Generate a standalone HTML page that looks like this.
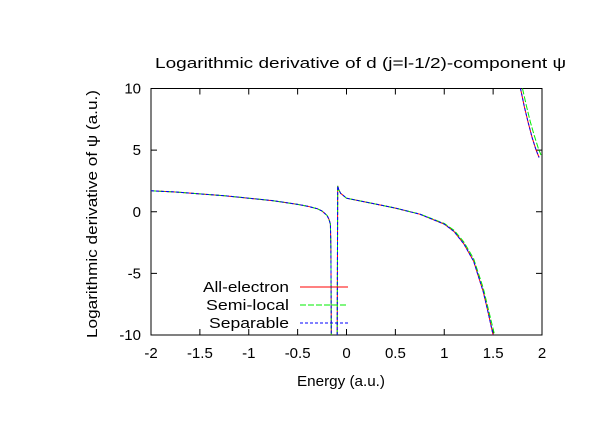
<!DOCTYPE html>
<html><head><meta charset="utf-8"><style>
body{margin:0;background:#fff}
svg text{font-family:"Liberation Sans",sans-serif;font-size:15px;fill:#000}
</style></head><body>
<svg id="c" width="612" height="428" xmlns="http://www.w3.org/2000/svg">
<rect width="612" height="428" fill="#fff"/>
<text x="155" y="68" textLength="411" lengthAdjust="spacingAndGlyphs">Logarithmic derivative of d (j=l-1/2)-component ψ</text>
<text transform="translate(97,338) rotate(-90)" textLength="248" lengthAdjust="spacingAndGlyphs">Logarithmic derivative of ψ (a.u.)</text>
<text x="297" y="386" textLength="88" lengthAdjust="spacingAndGlyphs">Energy (a.u.)</text>
<g id="axes"></g>
<g id="series"></g>
<g id="legend"></g>
</svg>
<script>
const xTicks=[-2,-1.5,-1,-0.5,0,0.5,1,1.5,2];
const yTicks=[-10,-5,0,5,10];
const seriesNames=["All-electron","Semi-local","Separable"];
const legendWidths=[86,83,80];
const seriesColors=["#ff0000","#00ee00","#0000ff"];
const aeX1=[-2,-1.75,-1.5,-1.25,-1,-0.75,-0.5,-0.4,-0.3,-0.25,-0.2,-0.18,-0.165,-0.16,-0.155];
const aeY1=[1.7,1.6,1.45,1.3,1.1,0.9,0.6,0.45,0.25,0.05,-0.3,-0.6,-1.0,-3,-10];
const aeX2=[-0.095,-0.09,-0.08,-0.06,-0.03,0,0.25,0.5,0.75,1,1.1,1.2,1.3,1.4,1.45,1.5];
const aeY2=[-10,2.1,1.8,1.5,1.3,1.1,0.7,0.3,-0.2,-1.0,-1.6,-2.6,-4.0,-6.5,-8.2,-10];
const aeX3=[1.78,1.82,1.86,1.9,1.94,1.97];
const aeY3=[10,8.5,7.2,6.0,5.0,4.4];
const slX2=[-0.095,-0.09,-0.08,-0.06,-0.03,0,0.25,0.5,0.75,1,1.1,1.2,1.3,1.4,1.46,1.515];
const slY2=[-10,2.1,1.8,1.5,1.3,1.1,0.7,0.3,-0.18,-0.95,-1.5,-2.45,-3.8,-6.2,-8.2,-10];
const slX3=[1.8,1.84,1.88,1.92,1.96,1.99];
const slY3=[10,8.6,7.3,6.2,5.2,4.6];
const L=151,R=542,T=88.5,B=335;
const sx=v=>L+(v+2)/4*(R-L);
const sy=v=>B-(v+10)/20*(B-T);
const NS="http://www.w3.org/2000/svg";
function mk(tag,attrs,parent){const e=document.createElementNS(NS,tag);for(const k in attrs)e.setAttribute(k,attrs[k]);parent.appendChild(e);return e;}
const ax=document.getElementById('axes');
const frame=mk('rect',{x:L,y:T,width:R-L,height:B-T,fill:'none',stroke:'#000','stroke-width':1},ax);


xTicks.forEach(t=>{const x=sx(t);
 mk('path',{d:`M${x},${B}v-6M${x},${T}v6`,stroke:'#000'},ax);
 const tx=mk('text',{x:x,y:358,'text-anchor':'middle'},ax);tx.textContent=t;
 
 });
yTicks.forEach(t=>{const y=sy(t);
 mk('path',{d:`M${L},${y}h6M${R},${y}h-6`,stroke:'#000'},ax);
 const tx=mk('text',{x:141,y:y+5,'text-anchor':'end'},ax);tx.textContent=t;
 
 });
const sg=document.getElementById('series');
function line(xs,ys,color,dash,name){
 const d=xs.map((v,i)=>(i?'L':'M')+sx(v).toFixed(1)+','+sy(ys[i]).toFixed(1)).join('');
 const p=mk('path',{d:d,fill:'none',stroke:color,'stroke-width':1,'stroke-dasharray':dash},sg);
 
 }
const dashes=["none","6,2","3,2"];
line(aeX1,aeY1,seriesColors[0],dashes[0],'all-electron-branch-1');
line(aeX2,aeY2,seriesColors[0],dashes[0],'all-electron-branch-2');
line(aeX3,aeY3,seriesColors[0],dashes[0],'all-electron-branch-3');
line(aeX1,aeY1,seriesColors[1],dashes[1],'semi-local-branch-1');
line(slX2,slY2,seriesColors[1],dashes[1],'semi-local-branch-2');
line(slX3,slY3,seriesColors[1],dashes[1],'semi-local-branch-3');
line(aeX1,aeY1,seriesColors[2],dashes[2],'separable-branch-1');
line(aeX2,aeY2,seriesColors[2],dashes[2],'separable-branch-2');
line(aeX3,aeY3,seriesColors[2],dashes[2],'separable-branch-3');
const lg=document.getElementById('legend');
seriesNames.forEach((n,i)=>{const y=287+i*18;
 const t=mk('text',{x:289-legendWidths[i],y:y+5,textLength:legendWidths[i],lengthAdjust:'spacingAndGlyphs'},lg);t.textContent=n;
 
 
 const l=mk('path',{d:`M300,${y}h48`,stroke:seriesColors[i],'stroke-width':1,'stroke-dasharray':dashes[i]},lg);
 
 });
</script>
</body></html>
